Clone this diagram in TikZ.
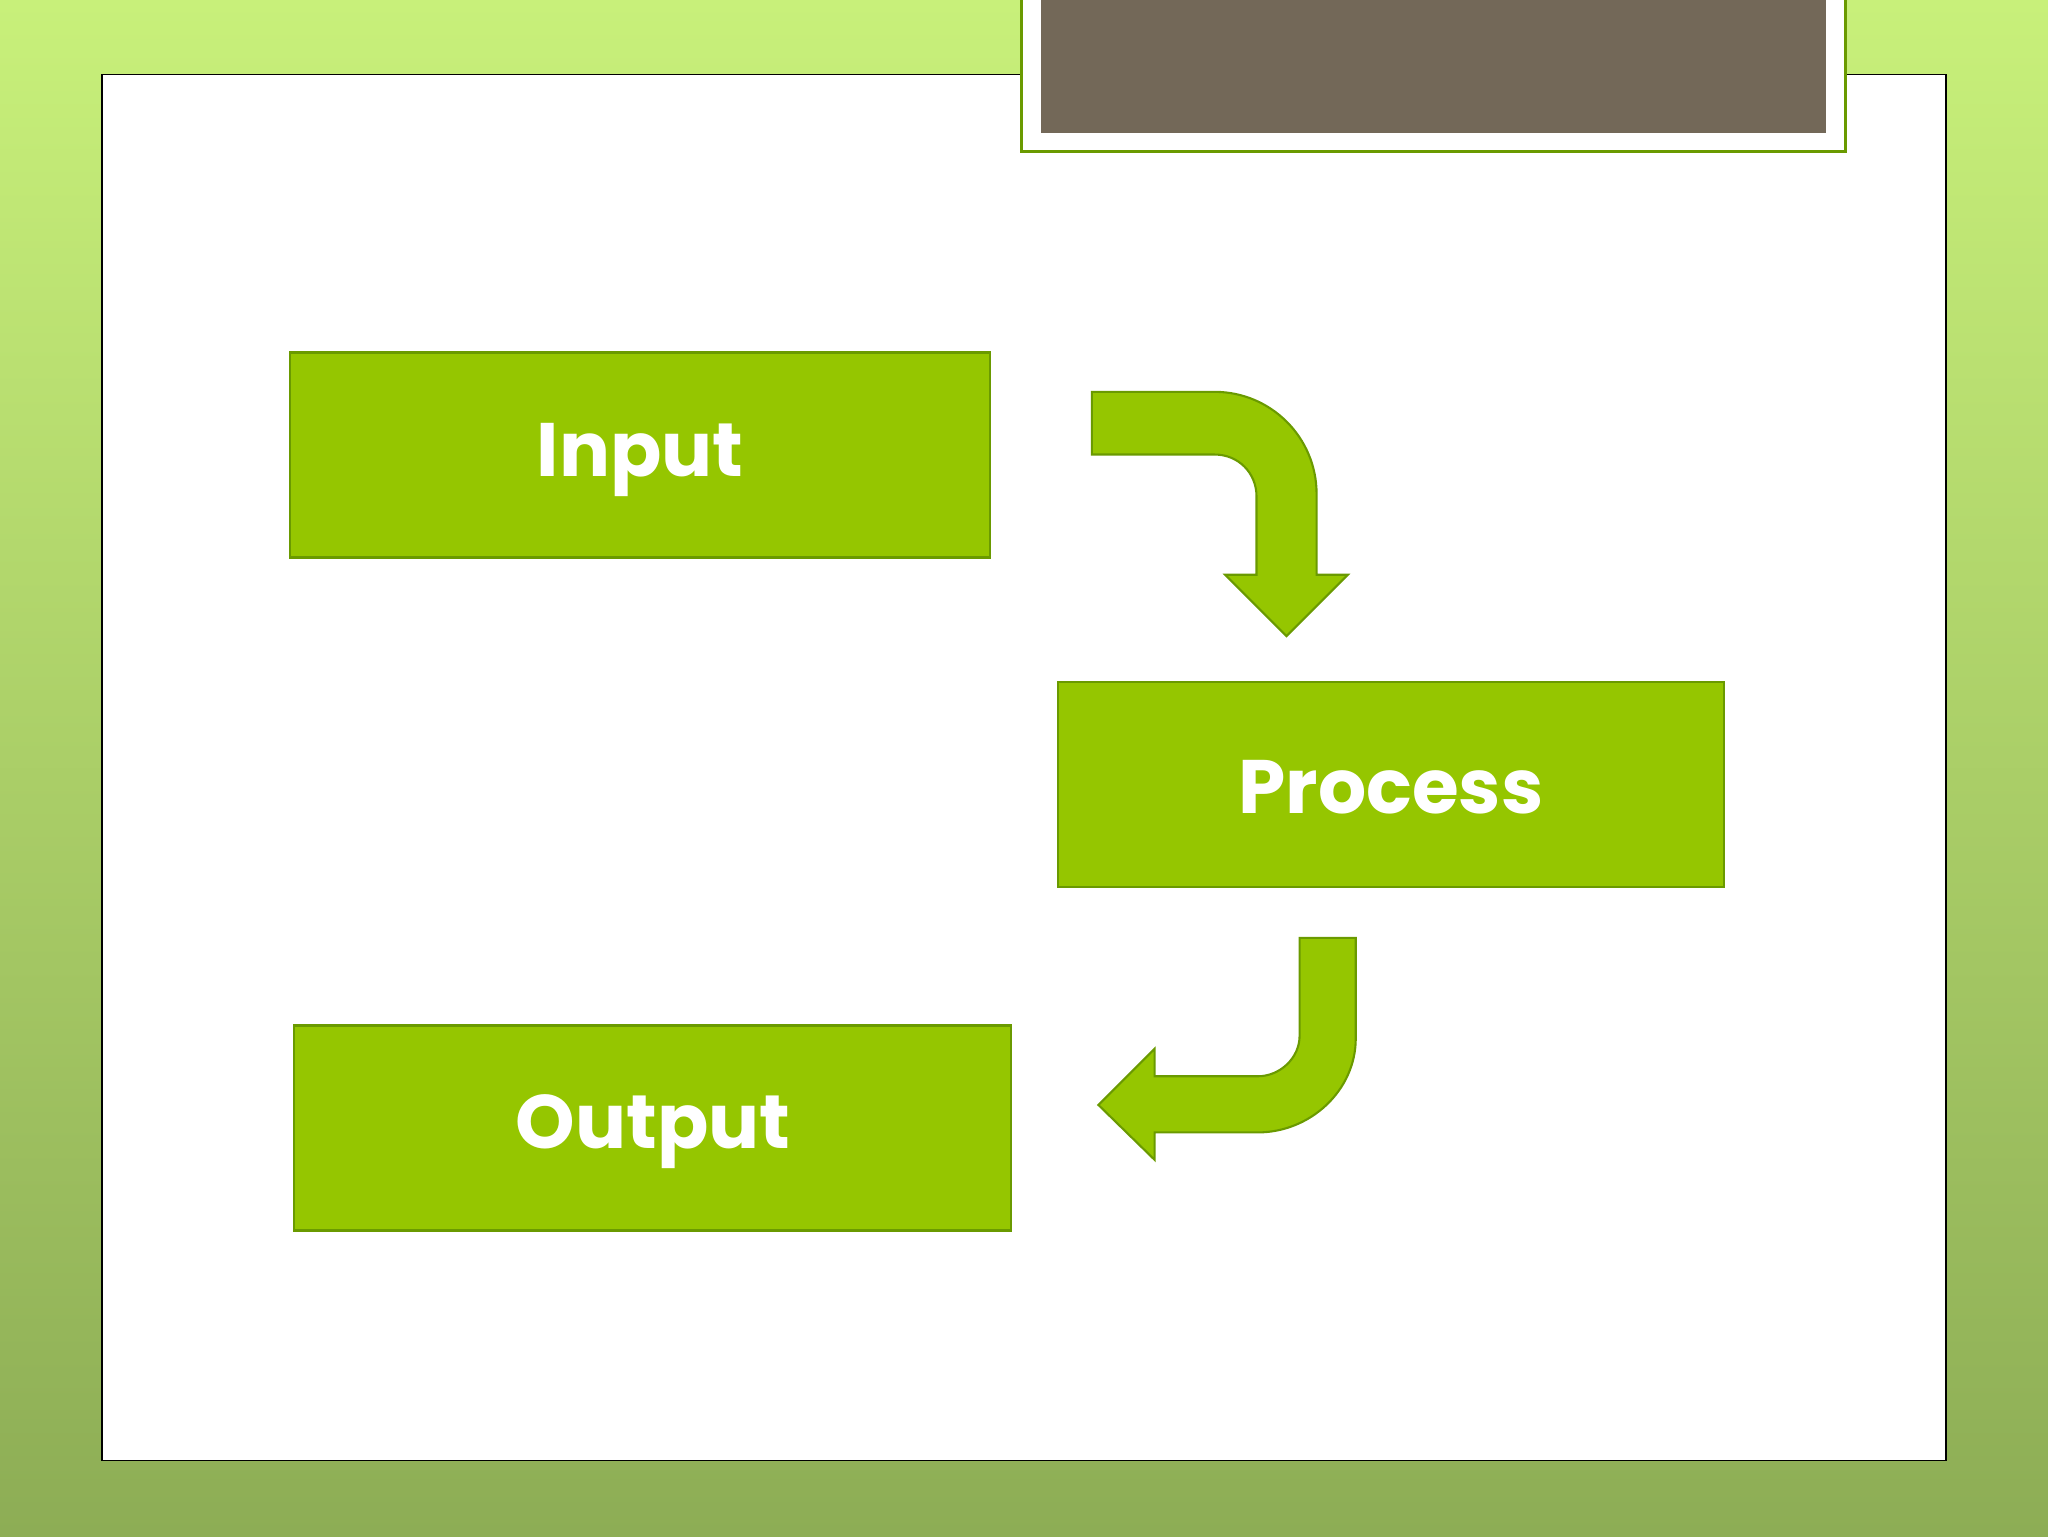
\documentclass[tikz,border=0pt]{standalone}
\usepackage{fontspec}
\setmainfont{Poppins}
\definecolor{boxg}{HTML}{95C600}
\definecolor{boxe}{HTML}{6A9A00}
\definecolor{tabc}{HTML}{736858}
\definecolor{bgt}{HTML}{C8F07A}
\definecolor{bgb}{HTML}{8DAD55}
\begin{document}
\begin{tikzpicture}[x=1pt,y=-1pt,
  gbox/.style={draw=boxe,line width=2pt,fill=boxg},
  glabel/.style={text=white,font=\fontsize{58}{60}\selectfont\bfseries},
  garrow/.style={draw=boxe,line width=1.6pt,fill=boxg,line join=miter}]
\useasboundingbox (0,0) rectangle (1568,1176);
\shade[top color=bgt,bottom color=bgb] (0,0) rectangle (1568,1176);
\fill[white,draw=black,line width=1pt] (78,57) rectangle (1490,1118);
\fill[white,draw=boxe,line width=2pt] (782,-5) rectangle (1413,116);
\fill[tabc] (797,-5) rectangle (1398,102);
\draw[gbox] (222,270) rectangle (758,427);
\node[glabel] (in) at (490,352) {Input};
\draw[gbox] (810,522) rectangle (1320,679);
\node[glabel] (pr) at (1065,603) {Process};
\draw[gbox] (225,785) rectangle (774,942);
\node[glabel] (out) at (500,866) {Output};
\draw[garrow] (836,300) -- (930,300) .. controls (973,300) and (1008,335) .. (1008,378)
  -- (1008,440) -- (1032,440) -- (985,487) -- (938,440) -- (962,440) -- (962,380)
  .. controls (962,362) and (948,348) .. (930,348) -- (836,348) -- cycle;
\draw[garrow] (995,718) -- (1038,718) -- (1038,795) .. controls (1038,835) and (1003,867) .. (963,867)
  -- (884,867) -- (884,888) -- (841,846) -- (884,803) -- (884,824) -- (963,824)
  .. controls (980,824) and (995,810) .. (995,793) -- cycle;
\end{tikzpicture}
\end{document}
